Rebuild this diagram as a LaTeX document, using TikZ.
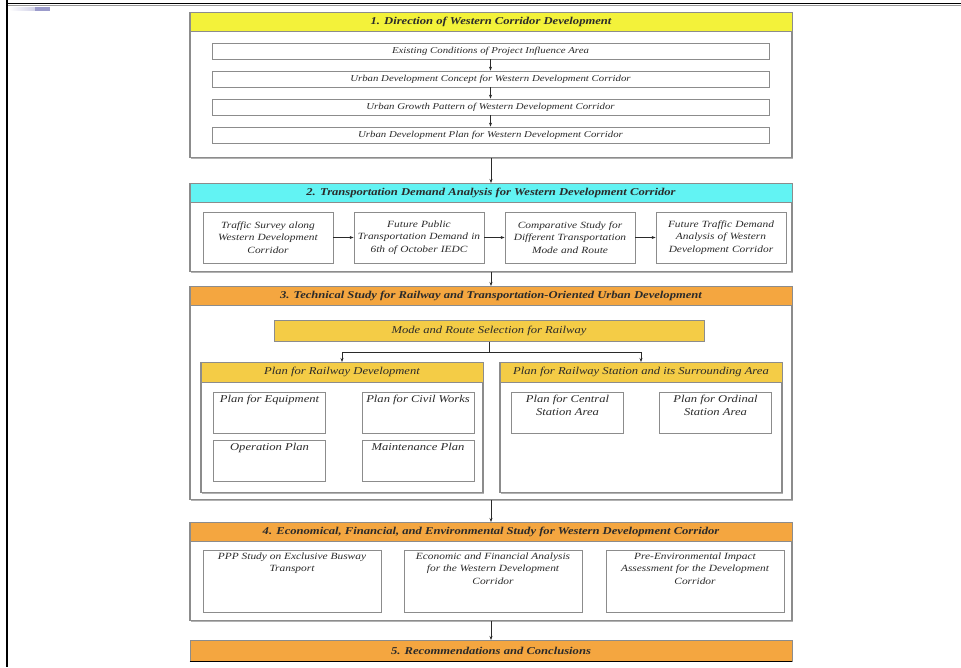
\documentclass[tikz,border=0pt]{standalone}
\usepackage{fontspec}
\setmainfont{Liberation Serif}[FakeStretch=1.2]
\usetikzlibrary{positioning, arrows.meta, shadows}

\definecolor{headyellow}{HTML}{F3F23A}
\definecolor{headcyan}{HTML}{62F3F3}
\definecolor{headorange}{HTML}{F4A640}
\definecolor{headgold}{HTML}{F4CC46}
\definecolor{edgegray}{HTML}{8C8C8C}
\definecolor{inkgray}{HTML}{2A2A2A}
\definecolor{tablav}{HTML}{9B9BCB}

\begin{document}
\begin{tikzpicture}[x=1pt, y=-1pt,
    panel/.style={draw=edgegray, line width=1.1pt, fill=white, inner sep=0pt, anchor=north,
      drop shadow={shadow xshift=1pt, shadow yshift=-1pt, fill=black!30, opacity=1}},
    head/.style={draw=edgegray, line width=0.6pt, inner sep=0pt, minimum height=19pt, anchor=north,
      text=inkgray, font=\fontsize{10.5}{12}\selectfont\bfseries\itshape},
    subhead/.style={head, fill=headgold, minimum height=20pt, font=\fontsize{10.5}{12}\selectfont\itshape},
    rowbox/.style={draw=edgegray, line width=0.8pt, fill=white, minimum width=557pt,
      minimum height=16pt, inner sep=0pt, text=inkgray, font=\fontsize{9}{10}\selectfont\itshape},
    card/.style={draw=edgegray, line width=0.8pt, fill=white, inner sep=0pt},
    cardtext/.style={align=center, inner sep=1pt, text=inkgray, font=\fontsize{9.5}{12.5}\selectfont\itshape},
    celltext/.style={cardtext, font=\fontsize{10.5}{13}\selectfont\itshape},
    link/.style={-{Stealth[length=4pt, width=3pt]}, line width=0.6pt, inkgray}
  ]
  \useasboundingbox (0,0) rectangle (961,667);

  % page frame
  \draw[line width=1.2pt, black] (7,3.4) -- (961,3.4);
  \draw[line width=1.2pt, black!40] (7,5.2) -- (961,5.2);
  \draw[line width=2pt, black] (7,0) -- (7,667);
  \shade[left color=white, right color=tablav!45] (9,7) rectangle (35,10);
  \fill[tablav] (35,7) rectangle (50,10.5);

  % 1. direction
  \node[panel, minimum width=602pt, minimum height=145pt] (sec1) at (491,12) {};
  \node[head, fill=headyellow, minimum width=602pt] (head1) at (491,12) {1. Direction of Western Corridor Development};
  \foreach \t [count=\i] in {Existing Conditions of Project Influence Area,
      Urban Development Concept for Western Development Corridor,
      Urban Growth Pattern of Western Development Corridor,
      Urban Development Plan for Western Development Corridor}
    \node[rowbox] (row\i) at (490.5,23+28*\i) {\t};
  \foreach \i/\j in {1/2,2/3,3/4}
    \draw[link] (row\i) -- (row\j);

  % 2. demand
  \node[panel, minimum width=602pt, minimum height=88pt] (sec2) at (491,183) {};
  \node[head, fill=headcyan, minimum width=602pt] (head2) at (491,183) {2. Transportation Demand Analysis for Western Development Corridor};
  \foreach \i/\x/\t in {1/268/{Traffic Survey along\\Western Development\\Corridor},
      2/419/{Future Public\\Transportation Demand in\\6th of October IEDC},
      3/570/{Comparative Study for\\Different Transportation\\Mode and Route},
      4/721/{Future Traffic Demand\\Analysis of Western\\Development Corridor}}
    \node[card, cardtext, minimum width=130pt, minimum height=51pt, text width=126pt] (dem\i) at (\x,237.5) {\t};
  \foreach \i/\j in {1/2,2/3,3/4}
    \draw[link] (dem\i) -- (dem\j);

  % 3. technical study
  \node[panel, minimum width=602pt, minimum height=213pt] (sec3) at (491,286) {};
  \node[head, fill=headorange, minimum width=602pt] (head3) at (491,286) {3. Technical Study for Railway and Transportation-Oriented Urban Development};
  \node[card, celltext, fill=headgold, minimum width=430pt, minimum height=21pt] (mode) at (489,331) {Mode and Route Selection for Railway};
  \coordinate (fork) at (489,352);

  \node[panel, minimum width=282pt, minimum height=130pt] (railpanel) at (342,362) {};
  \node[subhead, minimum width=282pt] (railhead) at (342,362) {Plan for Railway Development};
  \node[panel, minimum width=282pt, minimum height=130pt] (stapanel) at (641,362) {};
  \node[subhead, minimum width=282pt] (stahead) at (641,362) {Plan for Railway Station and its Surrounding Area};

  \draw[line width=0.6pt, inkgray] (mode) -- (fork);
  \draw[link] (fork) -| (railhead);
  \draw[link] (fork) -| (stahead);

  \foreach \n/\x/\y/\t in {equip/269.5/412.5/{Plan for Equipment},
      civil/418/412.5/{Plan for Civil Works},
      oper/269.5/461/{Operation Plan},
      maint/418/461/{Maintenance Plan},
      central/567.5/412.5/{Plan for Central\\Station Area},
      ordinal/715.5/412.5/{Plan for Ordinal\\Station Area}} {
    \node[card, minimum width=112pt, minimum height=41pt] (\n) at (\x,\y) {};
    \node[celltext, below=2pt of \n.north] (\n text) {\t};
  }

  % 4. economic study
  \node[panel, minimum width=602pt, minimum height=98pt] (sec4) at (491,522) {};
  \node[head, fill=headorange, minimum width=602pt] (head4) at (491,522) {4. Economical, Financial, and Environmental Study for Western Development Corridor};
  \foreach \n/\x/\t in {ppp/292/{PPP Study on Exclusive Busway\\Transport},
      econ/493/{Economic and Financial Analysis\\for the Western Development\\Corridor},
      env/695/{Pre-Environmental Impact\\Assessment for the Development\\Corridor}} {
    \node[card, minimum width=178pt, minimum height=62pt] (\n) at (\x,581) {};
    \node[cardtext, below=2pt of \n.north] (\n text) {\t};
  }

  % 5. conclusions
  \node[head, fill=headorange, minimum width=602pt, minimum height=21pt] (head5) at (491,640) {5. Recommendations and Conclusions};
  \draw[line width=1.6pt, black] (head5.south west) -- (head5.south east);

  % flow between sections
  \draw[link] (sec1.south) -- (head2.north);
  \draw[link] (sec2.south) -- (head3.north);
  \draw[link] (sec3.south) -- (head4.north);
  \draw[link] (sec4.south) -- (head5.north);
\end{tikzpicture}
\end{document}
